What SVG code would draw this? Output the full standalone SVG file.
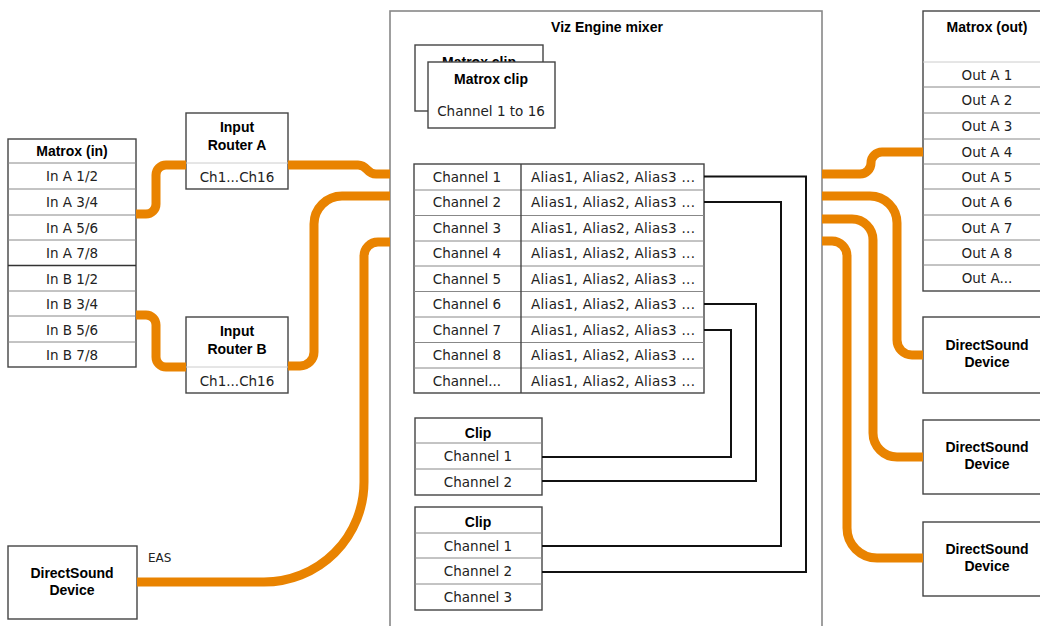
<svg xmlns="http://www.w3.org/2000/svg" width="1040" height="626" viewBox="0 0 1040 626">
<style>
.box{fill:#fff;stroke:#444;stroke-width:1.4}
.mix{fill:#fff;stroke:#888;stroke-width:1.6}
.sep{stroke:#888;stroke-width:1;fill:none}
.lsep{stroke:#ccc;stroke-width:1;fill:none}
.dsep{stroke:#333;stroke-width:1.6;fill:none}
.t{font-family:"DejaVu Sans",sans-serif;font-size:13.5px;fill:#222;text-anchor:middle}
.b{font-family:"Liberation Sans",Arial,sans-serif;font-weight:bold;font-size:14px;fill:#000;text-anchor:middle}
.s{font-family:"DejaVu Sans",sans-serif;font-size:12px;fill:#222}
.or{fill:none;stroke:#e98300;stroke-width:9}
.bk{fill:none;stroke:#111;stroke-width:2}
</style>
<rect width="1040" height="626" fill="#fff"/>

<g id="mixer">
<rect class="mix" x="390" y="11" width="432" height="640"/>
<text class="b" x="607" y="32">Viz Engine mixer</text>
</g>

<g id="matrox-clip-back">
<rect class="box" x="415" y="45" width="128" height="66" stroke="#666"/>
<text class="b" x="479" y="67">Matrox clip</text>
</g>
<g id="matrox-clip">
<rect class="box" x="428" y="62" width="127" height="66" stroke="#666"/>
<text class="b" x="491" y="84">Matrox clip</text>
<text class="t" x="491" y="116">Channel 1 to 16</text>
</g>

<g id="channel-table">
<rect class="box" x="414" y="164" width="290" height="229"/>
<path class="sep" d="M414 190H704M414 215.5H704M414 241H704M414 266H704M414 291.5H704M414 317H704M414 342.5H704M414 368H704"/>
<line x1="521" y1="164" x2="521" y2="393" stroke="#444" stroke-width="1.4"/>
<text class="t" x="467" y="181.5">Channel 1</text>
<text class="t" x="467" y="207">Channel 2</text>
<text class="t" x="467" y="232.5">Channel 3</text>
<text class="t" x="467" y="258">Channel 4</text>
<text class="t" x="467" y="283.5">Channel 5</text>
<text class="t" x="467" y="309">Channel 6</text>
<text class="t" x="467" y="334.5">Channel 7</text>
<text class="t" x="467" y="360">Channel 8</text>
<text class="t" x="467" y="385.5">Channel...</text>
<g class="t">
<text x="613" y="181.5" textLength="164" lengthAdjust="spacing">Alias1, Alias2, Alias3 ...</text>
<text x="613" y="207" textLength="164" lengthAdjust="spacing">Alias1, Alias2, Alias3 ...</text>
<text x="613" y="232.5" textLength="164" lengthAdjust="spacing">Alias1, Alias2, Alias3 ...</text>
<text x="613" y="258" textLength="164" lengthAdjust="spacing">Alias1, Alias2, Alias3 ...</text>
<text x="613" y="283.5" textLength="164" lengthAdjust="spacing">Alias1, Alias2, Alias3 ...</text>
<text x="613" y="309" textLength="164" lengthAdjust="spacing">Alias1, Alias2, Alias3 ...</text>
<text x="613" y="334.5" textLength="164" lengthAdjust="spacing">Alias1, Alias2, Alias3 ...</text>
<text x="613" y="360" textLength="164" lengthAdjust="spacing">Alias1, Alias2, Alias3 ...</text>
<text x="613" y="385.5" textLength="164" lengthAdjust="spacing">Alias1, Alias2, Alias3 ...</text>
</g>
</g>

<g id="clip-1">
<rect class="box" x="415" y="418" width="127" height="77"/>
<path class="sep" d="M415 443H542M415 469H542"/>
<text class="b" x="478" y="438">Clip</text>
<text class="t" x="478" y="461">Channel 1</text>
<text class="t" x="478" y="486.5">Channel 2</text>
</g>
<g id="clip-2">
<rect class="box" x="415" y="507" width="127" height="103"/>
<path class="sep" d="M415 533H542M415 558H542M415 584H542"/>
<text class="b" x="478" y="527">Clip</text>
<text class="t" x="478" y="550.5">Channel 1</text>
<text class="t" x="478" y="576">Channel 2</text>
<text class="t" x="478" y="601.5">Channel 3</text>
</g>

<g id="matrox-in">
<rect class="box" x="8" y="139" width="128" height="228"/>
<path class="sep" d="M8 163H136M8 189H136M8 215H136M8 240H136M8 291H136M8 316H136M8 342H136"/>
<path class="dsep" d="M8 265.5H136"/>
<text class="b" x="72" y="156">Matrox (in)</text>
<text class="t" x="72" y="181">In A 1/2</text>
<text class="t" x="72" y="207">In A 3/4</text>
<text class="t" x="72" y="232.5">In A 5/6</text>
<text class="t" x="72" y="258">In A 7/8</text>
<text class="t" x="72" y="283.5">In B 1/2</text>
<text class="t" x="72" y="309">In B 3/4</text>
<text class="t" x="72" y="334.5">In B 5/6</text>
<text class="t" x="72" y="360">In B 7/8</text>
</g>

<g id="router-a">
<rect class="box" x="186" y="113" width="102" height="76"/>
<path class="lsep" d="M186 163H288"/>
<text class="b" x="237" y="132">Input</text>
<text class="b" x="237" y="150">Router A</text>
<text class="t" x="237" y="181.5">Ch1...Ch16</text>
</g>
<g id="router-b">
<rect class="box" x="186" y="317" width="102" height="76"/>
<path class="lsep" d="M186 367H288"/>
<text class="b" x="237" y="336">Input</text>
<text class="b" x="237" y="354">Router B</text>
<text class="t" x="237" y="385.5">Ch1...Ch16</text>
</g>

<g id="ds-eas">
<rect class="box" x="8" y="546" width="129" height="73"/>
<text class="b" x="72" y="578">DirectSound</text>
<text class="b" x="72" y="595">Device</text>
</g>

<g id="matrox-out">
<rect class="box" x="923" y="11" width="128" height="280"/>
<path class="lsep" d="M923 62H1051"/>
<path class="sep" d="M923 87H1051M923 113H1051M923 139H1051M923 164H1051M923 189H1051M923 215H1051M923 240H1051M923 265H1051"/>
<text class="b" x="987" y="32">Matrox (out)</text>
<text class="t" x="987" y="79.5">Out A 1</text>
<text class="t" x="987" y="105">Out A 2</text>
<text class="t" x="987" y="131">Out A 3</text>
<text class="t" x="987" y="156.5">Out A 4</text>
<text class="t" x="987" y="181.5">Out A 5</text>
<text class="t" x="987" y="207">Out A 6</text>
<text class="t" x="987" y="232.5">Out A 7</text>
<text class="t" x="987" y="257.5">Out A 8</text>
<text class="t" x="987" y="283">Out A...</text>
</g>

<g id="ds-out-1">
<rect class="box" x="923" y="317" width="128" height="76"/>
<text class="b" x="987" y="350">DirectSound</text>
<text class="b" x="987" y="367">Device</text>
</g>
<g id="ds-out-2">
<rect class="box" x="923" y="420" width="128" height="74"/>
<text class="b" x="987" y="452">DirectSound</text>
<text class="b" x="987" y="469">Device</text>
</g>
<g id="ds-out-3">
<rect class="box" x="923" y="522" width="128" height="74"/>
<text class="b" x="987" y="554">DirectSound</text>
<text class="b" x="987" y="571">Device</text>
</g>

<g id="connectors">
<path class="or" d="M136 214H146A10 10 0 0 0 156 204V175A10 10 0 0 1 166 165H186"/>
<path class="or" d="M288 165H358C368 165 366 174 376 174H390"/>
<path class="or" d="M136 315H146A10 10 0 0 1 156 325V357A10 10 0 0 0 166 367H186"/>
<path class="or" d="M288 366H300A14 14 0 0 0 314 352V224A28 28 0 0 1 342 196H390"/>
<path class="or" d="M137 582H264A100 100 0 0 0 364 482V256A14 14 0 0 1 378 242H390"/>
<path class="or" d="M822 174H860A11 11 0 0 0 871 163A11 11 0 0 1 882 152H923"/>
<path class="or" d="M822 196H870A27 27 0 0 1 897 223V340A15 15 0 0 0 912 355H923"/>
<path class="or" d="M822 219H852A21 21 0 0 1 873 240V433A24 24 0 0 0 897 457H923"/>
<path class="or" d="M822 241H832A15 15 0 0 1 847 256V528A30 30 0 0 0 877 558H923"/>
<path class="bk" d="M704 176.5H806V572H542"/>
<path class="bk" d="M704 202H781V546H542"/>
<path class="bk" d="M704 304H756V481H542"/>
<path class="bk" d="M704 330H731V457H542"/>
<text class="s" x="148" y="562">EAS</text>
</g>
</svg>
